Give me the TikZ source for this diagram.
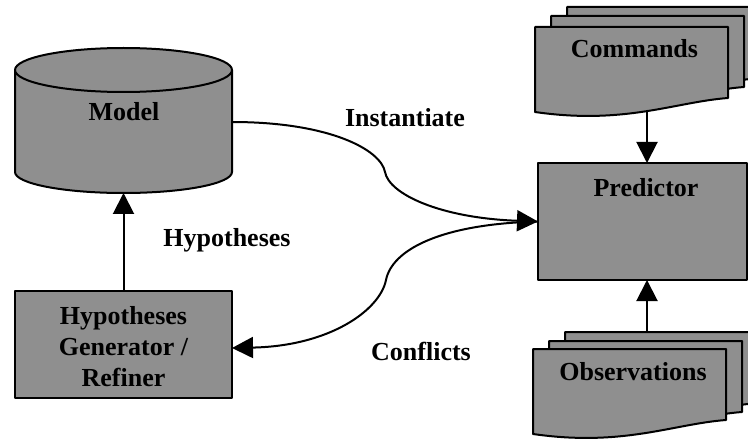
\documentclass[tikz,border=0pt]{standalone}
\usepackage{fontspec}
\setmainfont{Liberation Serif}
\usetikzlibrary{arrows.meta}
\definecolor{paperfill}{gray}{0.56}
\tikzset{
  paper/.style={fill=paperfill, draw=black, line width=2pt, line join=round},
  lbl/.style={font=\fontsize{26}{31}\selectfont\bfseries, inner sep=0pt, anchor=base},
  arr/.style={line width=2pt, -{Triangle[width=21pt,length=21pt]}},
  shapebox/.style={paper, inner sep=0pt, outer sep=0pt},
  ghost/.style={inner sep=0pt, outer sep=0pt},
}
\newcommand\docsheet[2]{\begin{scope}[shift={(#1,#2)}]\draw[paper] (0,0) -- (193,0) -- (193,71) .. controls (140,75) and (90,98) .. (0,85) -- cycle;\end{scope}}
\begin{document}
\begin{tikzpicture}[x=1pt,y=-1pt]
\useasboundingbox (0,0) rectangle (748,441);
\clip (0,0) rectangle (748,441);

% Model cylinder
\node[ghost, minimum width=217pt, minimum height=145pt] (model) at (123.5,120.5) {};
\draw[paper] (15,70) -- (15,172) arc[start angle=180, end angle=360, x radius=108.5pt, y radius=21pt] -- (232,70) -- cycle;
\draw[paper] (123.5,70) ellipse[x radius=108.5pt, y radius=22pt];
\node[lbl] (modeltext) at (124,121) {Model};

% Hypotheses generator
\node[shapebox, minimum width=217pt, minimum height=107pt] (hg) at (123.5,344.5) {};
\node[lbl, anchor=center, align=center] (hgtext) at ([yshift=-2.5pt]hg.center) {Hypotheses\\Generator /\\Refiner};

% Predictor
\node[shapebox, minimum width=209pt, minimum height=117pt] (pred) at (642.5,221.5) {};
\node[lbl] (predtext) at (646,197) {Predictor};

% Commands stack
\docsheet{567}{7}
\docsheet{551}{16}
\docsheet{535}{27}
\node[lbl] (cmdtext) at (634.5,58) {Commands};
\coordinate (cmdbot) at (647,110);

% Observations stack
\docsheet{565}{332}
\docsheet{549}{341}
\docsheet{533}{349}
\node[lbl] (obstext) at (633,380) {Observations};
\coordinate (obstop) at (647,332);

% connectors
\draw[arr] (hg.north) -- (model.south);
\draw[arr] (cmdbot) -- (cmdbot |- pred.north);
\draw[arr] (obstop) -- (obstop |- pred.south);
\coordinate (modelout) at ([yshift=-1.5pt]model.east);
\coordinate (hgin) at ([yshift=-3.5pt]hg.east);
\draw[arr] (modelout) .. controls (330,122) and (381,150) .. (385,172) .. controls (389,194) and (440,218) .. (pred.west);
\draw[arr] (pred.west) .. controls (440,224) and (392,250) .. (386,280) .. controls (380,310) and (330,346) .. (hgin);

% labels
\node[lbl] (inst) at (405,127) {Instantiate};
\node[lbl] (hyp) at (227,247) {Hypotheses};
\node[lbl] (conf) at (421,360) {Conflicts};
\end{tikzpicture}
\end{document}
